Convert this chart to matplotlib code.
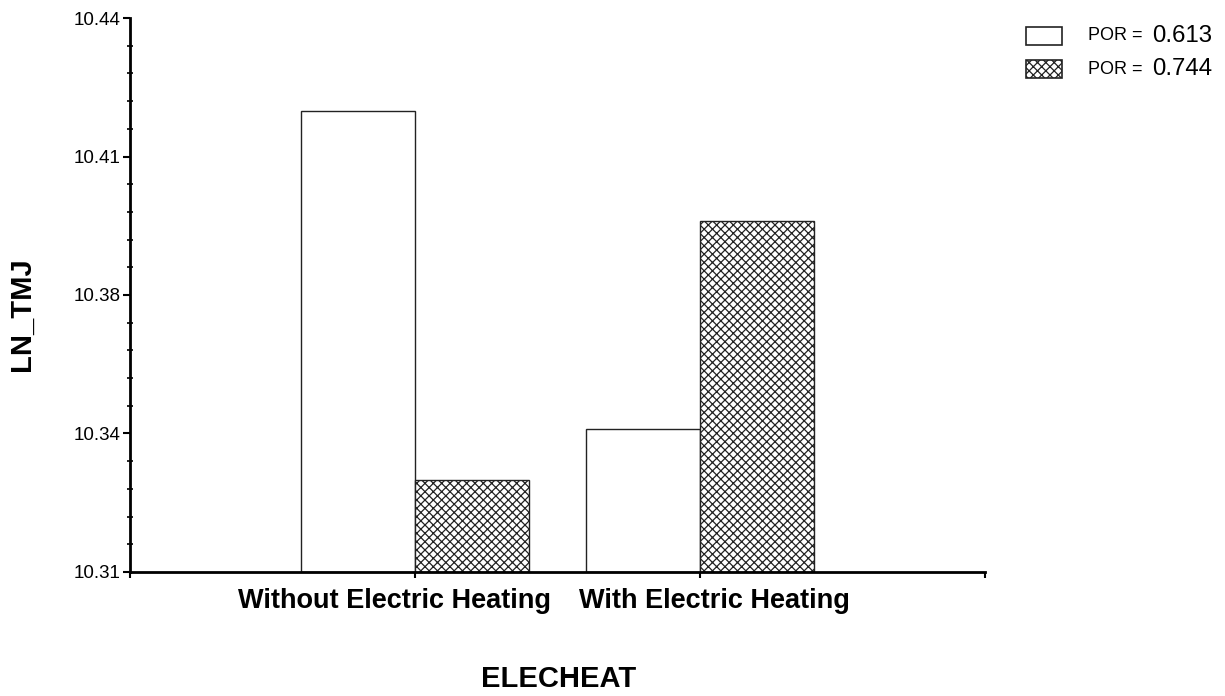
import numpy as np
import matplotlib.pyplot as plt
from matplotlib.ticker import FixedLocator, FixedFormatter
import matplotlib.transforms as mtransforms

plt.rcParams['font.family'] = ['Liberation Sans', 'DejaVu Sans']
plt.rcParams['hatch.linewidth'] = 0.9

# data
categories = ['Without Electric Heating', 'With Electric Heating']
por_labels = ['0.613', '0.744']
ln_tmj_613 = [10.4182, 10.3436]
ln_tmj_744 = [10.3316, 10.3924]

y_min, y_max = 10.31, 10.44
y_ticks = np.linspace(y_min, y_max, 5)

fig = plt.figure(figsize=(12.25, 6.96), dpi=100)
ax = fig.add_axes([0.1061, 0.1782, 0.6980, 0.7959])

x = np.arange(1, len(categories) + 1)
w = 0.4
ax.bar(x - w / 2, np.array(ln_tmj_613) - y_min, w, bottom=y_min,
       facecolor='white', edgecolor='#222222', linewidth=1.0)
ax.bar(x + w / 2, np.array(ln_tmj_744) - y_min, w, bottom=y_min,
       facecolor='white', edgecolor='#222222', linewidth=1.0, hatch='xxxx')

ax.set_xlim(0, 3)
ax.set_ylim(y_min, y_max)

for side in ['top', 'right']:
    ax.spines[side].set_visible(False)
for side in ['left', 'bottom']:
    ax.spines[side].set_linewidth(2)

ax.yaxis.set_major_locator(FixedLocator(y_ticks))
ax.yaxis.set_major_formatter(FixedFormatter(['%.2f' % v for v in y_ticks]))
ax.yaxis.set_minor_locator(FixedLocator(np.linspace(y_min, y_max, 21)))
ax.tick_params(axis='y', which='major', length=5, width=1.5, labelsize=13.5, pad=2)
ax.tick_params(axis='y', which='minor', length=4, width=1.2, direction='inout')

ax.set_xticks([0, 1, 2, 3])
ax.set_xticklabels([])
ax.tick_params(axis='x', which='major', length=4, width=1.5)

# category labels below axis (shifted apart like the original)
offsets = [-20, 14]
for xi, lab, dx in zip(x, categories, offsets):
    tr = ax.get_xaxis_transform() + mtransforms.ScaledTranslation(dx / 100, 0, fig.dpi_scale_trans)
    ax.text(xi, -0.052, lab, transform=tr, ha='center', va='center',
            fontsize=19.5, fontweight='bold')

fig.text(0.456, 0.024, 'ELECHEAT', ha='center', va='center', fontsize=21, fontweight='bold')
fig.text(0.018, 0.549, 'LN_TMJ', ha='center', va='center', rotation=90,
         fontsize=21, fontweight='bold')

# legend drawn by hand
hatches = [None, 'xxxx']
rows_y = [36, 69]
for h, lab, yy in zip(hatches, por_labels, rows_y):
    yf = 1 - yy / 696
    r = plt.Rectangle((1026 / 1225, yf - 9 / 696), 36 / 1225, 18 / 696, transform=fig.transFigure,
                      facecolor='white', edgecolor='#222222', linewidth=1.2, hatch=h)
    fig.add_artist(r)
    fig.text(1088 / 1225, yf, 'POR = ', ha='left', va='center', fontsize=13)
    fig.text(1152 / 1225, yf, lab, ha='left', va='center', fontsize=17.3)

fig.savefig('out.png', dpi=100)
